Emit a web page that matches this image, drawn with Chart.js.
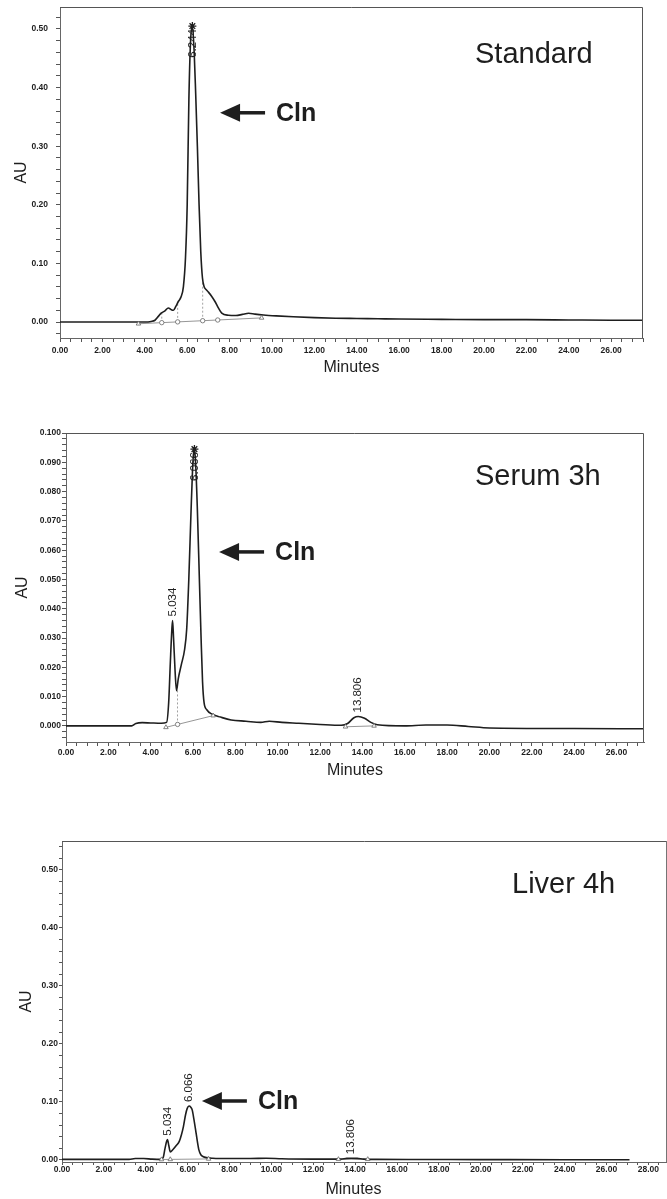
<!DOCTYPE html>
<html>
<head>
<meta charset="utf-8">
<script src="https://cdn.jsdelivr.net/npm/chart.js@4.4.1/dist/chart.umd.min.js"></script>
<style>
  html, body { margin: 0; padding: 0; background: #fff; }
  body { width: 667px; height: 1199px; position: relative; overflow: hidden; }
  canvas { position: absolute; left: 0; }
</style>
</head>
<body>
<canvas id="standard" width="667" height="385" style="top:0px"></canvas>
<canvas id="serum" width="667" height="385" style="top:400px"></canvas>
<canvas id="liver" width="672" height="379" style="top:820px"></canvas>
<script>
// ---- Standard trace (minutes, AU) ----
const standardTime = [0, 4.0, 4.3, 4.48, 4.65, 4.77, 4.95, 5.11, 5.25, 5.35, 5.47, 5.58, 5.7, 5.82, 5.92, 6.0, 6.08, 6.16, 6.244, 6.33, 6.4, 6.48, 6.56, 6.64, 6.72, 6.8, 6.9, 7.0, 7.15, 7.31, 7.47, 7.63, 7.94, 8.3, 8.6, 8.9, 9.2, 9.6, 10.2, 11, 12, 13, 14, 15, 16, 18, 20, 22, 24, 26, 27.5];
const standardAU = [0, 0, 0.001, 0.003, 0.01, 0.015, 0.019, 0.024, 0.021, 0.02, 0.027, 0.035, 0.042, 0.06, 0.11, 0.2, 0.38, 0.48, 0.505, 0.46, 0.39, 0.3, 0.2, 0.12, 0.075, 0.06, 0.055, 0.051, 0.044, 0.035, 0.024, 0.015, 0.0115, 0.011, 0.013, 0.015, 0.0135, 0.012, 0.0105, 0.009, 0.0075, 0.0065, 0.006, 0.0055, 0.005, 0.0045, 0.004, 0.004, 0.0035, 0.003, 0.003];
const standardBaseTime = [3.7, 9.51];
const standardBaseAU = [-0.003, 0.007];
const standardDropTime = [4.8, 4.8, null, 5.55, 5.55, null, 6.73, 6.73];
const standardDropAU = [-0.0011, 0.016, null, 0.0002, 0.034, null, 0.0022, 0.068];
const standardTriTime = [3.7, 9.51];
const standardTriAU = [-0.003, 0.007];
const standardCircTime = [4.8, 5.55, 6.73, 7.44];
const standardCircAU = [-0.0011, 0.0002, 0.0022, 0.0034];
const standardPeakTime = [6.244];
const standardPeakAU = [0.505];
const standardPeakText = ['6.244'];
const standardApexTime = [6.244];
const standardApexAU = [0.505];

// ---- Serum 3h trace ----
const serumTime = [0, 3.1, 3.3, 3.6, 4.0, 4.5, 4.75, 4.85, 4.93, 5.0, 5.034, 5.08, 5.15, 5.22, 5.3, 5.45, 5.6, 5.7, 5.8, 5.9, 5.98, 6.03, 6.066, 6.12, 6.2, 6.3, 6.38, 6.45, 6.52, 6.65, 6.9, 7.3, 7.8, 8.5, 9.2, 9.6, 10.2, 11, 12, 13.0, 13.3, 13.6, 13.806, 14.1, 14.4, 14.7, 16, 17, 18, 19, 20, 24, 27.3];
const serumAU = [0, 0, 0.0008, 0.0011, 0.001, 0.0009, 0.0012, 0.008, 0.022, 0.033, 0.036, 0.03, 0.019, 0.012, 0.016, 0.021, 0.026, 0.033, 0.05, 0.072, 0.088, 0.0935, 0.0945, 0.09, 0.075, 0.05, 0.03, 0.015, 0.008, 0.0055, 0.004, 0.003, 0.002, 0.0016, 0.0012, 0.0016, 0.0012, 0.0009, 0.0005, 0.0002, 0.0008, 0.0028, 0.0032, 0.0026, 0.0012, 0.0004, 0.0, 0.0003, 0.0003, -0.0002, -0.0007, -0.0009, -0.001];
const serumBaseTime = [4.72, 5.27, 6.95, null, 13.2, 14.55];
const serumBaseAU = [-0.0005, 0.0005, 0.0035, null, -0.0003, 0.0];
const serumDropTime = [5.27, 5.27];
const serumDropAU = [0.0005, 0.0125];
const serumTriTime = [4.72, 6.95, 13.2, 14.55];
const serumTriAU = [-0.0005, 0.0035, -0.0003, 0.0];
const serumCircTime = [5.27];
const serumCircAU = [0.0005];
const serumPeakTime = [5.034, 6.066, 13.806];
const serumPeakAU = [0.036, 0.0945, 0.0032];
const serumPeakText = ['5.034', '6.066', '13.806'];
const serumApexTime = [6.066];
const serumApexAU = [0.0945];

// ---- Liver 4h trace ----
const liverTime = [0, 3.2, 3.5, 3.9, 4.3, 4.7, 4.83, 4.92, 5.034, 5.1, 5.17, 5.3, 5.46, 5.6, 5.7, 5.8, 5.9, 5.98, 6.066, 6.15, 6.22, 6.3, 6.38, 6.46, 6.54, 6.63, 6.73, 6.9, 7.2, 8, 9, 9.75, 10.5, 12, 13.3, 13.6, 13.806, 14.1, 14.4, 15, 17, 20, 24, 27.1];
const liverAU = [0.001, 0.001, 0.0025, 0.0025, 0.0015, 0.001, 0.004, 0.02, 0.035, 0.025, 0.014, 0.018, 0.025, 0.032, 0.043, 0.058, 0.078, 0.089, 0.093, 0.091, 0.086, 0.07, 0.052, 0.033, 0.017, 0.009, 0.006, 0.004, 0.003, 0.0025, 0.0025, 0.003, 0.002, 0.0015, 0.0015, 0.0028, 0.003, 0.0028, 0.0015, 0.001, 0.0008, 0.0006, 0.0004, 0.0003];
const liverBaseTime = [4.75, 5.17, 7.0, null, 13.2, 14.6];
const liverBaseAU = [0.0008, 0.001, 0.0018, null, 0.0012, 0.0012];
const liverTriTime = [4.75, 5.17, 7.0, 13.2, 14.6];
const liverTriAU = [0.0008, 0.001, 0.0018, 0.0012, 0.0012];
const liverPeakTime = [5.034, 6.066, 13.806];
const liverPeakAU = [0.035, 0.093, 0.003];
const liverPeakText = ['5.034', '6.066', '13.806'];

const FONT = "'Liberation Sans', Arial, Helvetica, sans-serif";
const INK = '#1e1e1e';

// pair two arrays into {x, y} points (null keeps a gap in the line)
function toPoints(xs, ys) {
  return xs.map((t, i) => ({ x: t, y: ys[i] }));
}

function isMajor(value, step) {
  return Math.abs(value / step - Math.round(value / step)) < 1e-6;
}

// frame, sample name, peak labels and the "Cln" arrow
const chromPlugin = {
  id: 'chrom',
  afterDraw(chart, args, opts) {
    const { ctx, chartArea: area, scales: { x, y } } = chart;
    ctx.save();
    ctx.strokeStyle = '#555';
    ctx.lineWidth = 1;
    ctx.beginPath();
    ctx.moveTo(area.left, area.top + 0.5);
    ctx.lineTo(area.right - 0.5, area.top + 0.5);
    ctx.lineTo(area.right - 0.5, area.bottom);
    ctx.stroke();

    ctx.fillStyle = INK;
    ctx.textBaseline = 'middle';
    ctx.textAlign = 'left';
    ctx.font = '29px ' + FONT;
    ctx.fillText(opts.title, opts.titleX, opts.titleY);

    // rotated retention time labels above each peak
    ctx.font = '11.5px ' + FONT;
    opts.peakTime.forEach((t, i) => {
      const px = x.getPixelForValue(t);
      const py = y.getPixelForValue(opts.peakAU[i]);
      const text = opts.peakText[i];
      const w = ctx.measureText(text).width;
      let start = py - 4;
      if (start - w < area.top) start = py + w + 3;
      ctx.save();
      ctx.translate(px, start);
      ctx.rotate(-Math.PI / 2);
      ctx.fillText(text, 0, 0);
      ctx.restore();
    });

    // arrow pointing at the Cln peak
    const ax = x.getPixelForValue(opts.arrowTime);
    const ay = y.getPixelForValue(opts.arrowAU);
    ctx.beginPath();
    ctx.moveTo(ax, ay);
    ctx.lineTo(ax + 20, ay - 9);
    ctx.lineTo(ax + 20, ay + 9);
    ctx.closePath();
    ctx.fill();
    ctx.fillRect(ax + 19, ay - 1.75, 26, 3.5);
    ctx.font = 'bold 25px ' + FONT;
    ctx.fillText('Cln', ax + 56, ay + 1);
    ctx.restore();
  }
};

function makeChart(id, cfg) {
  const datasets = [
    {
      data: toPoints(cfg.time, cfg.au),
      showLine: true,
      borderColor: INK,
      borderWidth: 1.6,
      pointRadius: 0,
      cubicInterpolationMode: 'monotone',
      order: 1
    },
    {
      data: toPoints(cfg.baseTime, cfg.baseAU),
      showLine: true,
      borderColor: '#8a8a8a',
      borderWidth: 0.9,
      pointRadius: 0,
      spanGaps: false,
      order: 2
    },
    {
      data: toPoints(cfg.dropTime || [], cfg.dropAU || []),
      showLine: true,
      borderColor: '#8a8a8a',
      borderWidth: 0.8,
      borderDash: [2, 2],
      pointRadius: 0,
      spanGaps: false,
      order: 2
    },
    {
      data: toPoints(cfg.triTime, cfg.triAU),
      showLine: false,
      pointStyle: 'triangle',
      pointRadius: 2.6,
      borderColor: '#666',
      borderWidth: 0.8,
      backgroundColor: '#fff',
      order: 0
    },
    {
      data: toPoints(cfg.circTime || [], cfg.circAU || []),
      showLine: false,
      pointStyle: 'circle',
      pointRadius: 2.2,
      borderColor: '#666',
      borderWidth: 0.8,
      backgroundColor: '#fff',
      order: 0
    },
    {
      data: toPoints(cfg.apexTime || [], cfg.apexAU || []),
      showLine: false,
      pointStyle: 'star',
      pointRadius: 4,
      borderColor: INK,
      borderWidth: 1.3,
      order: 0
    }
  ];

  const tickFont = { family: FONT, size: 8.5, weight: 'bold' };

  return new Chart(document.getElementById(id), {
    type: 'scatter',
    data: { datasets: datasets },
    plugins: [chromPlugin],
    options: {
      responsive: false,
      animation: false,
      layout: { padding: cfg.padding },
      plugins: {
        legend: { display: false },
        tooltip: { enabled: false },
        chrom: {
          title: cfg.title,
          titleX: cfg.titleX,
          titleY: cfg.titleY,
          peakTime: cfg.peakTime,
          peakAU: cfg.peakAU,
          peakText: cfg.peakText,
          arrowTime: cfg.arrowTime,
          arrowAU: cfg.arrowAU
        }
      },
      scales: {
        x: {
          type: 'linear',
          min: 0,
          max: cfg.xMax,
          afterFit: (scale) => {
            scale.height = cfg.xHeight;
            scale.paddingLeft = 0;
            scale.paddingRight = 0;
          },
          border: { display: true, color: '#666', width: 1 },
          grid: { drawOnChartArea: false, drawTicks: true, tickLength: cfg.tickLen, tickColor: '#555' },
          ticks: {
            stepSize: 0.5,
            maxTicksLimit: 1000,
            autoSkip: false,
            includeBounds: false,
            maxRotation: 0,
            minRotation: 0,
            padding: cfg.xTickPad,
            color: INK,
            font: tickFont,
            callback: (v) => isMajor(v, 2) ? v.toFixed(2) : ''
          },
          title: {
            display: true,
            // trailing no-break spaces nudge the centred title left where needed
            text: 'Minutes' + '\u00a0'.repeat(cfg.xTitleShift || 0),
            color: INK,
            font: { family: FONT, size: 16 },
            padding: { top: 0, bottom: cfg.xTitlePad }
          }
        },
        y: {
          type: 'linear',
          min: cfg.yMin,
          max: cfg.yMax,
          afterFit: (scale) => {
            scale.width = cfg.yWidth;
            scale.paddingTop = 0;
            scale.paddingBottom = 0;
          },
          border: { display: true, color: '#666', width: 1 },
          grid: { drawOnChartArea: false, drawTicks: true, tickLength: cfg.tickLen, tickColor: '#555' },
          ticks: {
            stepSize: cfg.yMinor,
            maxTicksLimit: 1000,
            autoSkip: false,
            includeBounds: false,
            padding: cfg.yTickPad,
            color: INK,
            font: tickFont,
            callback: (v) => isMajor(v, cfg.yMajor) ? v.toFixed(cfg.yDigits) : ''
          },
          title: {
            display: true,
            text: 'AU',
            color: INK,
            font: { family: FONT, size: 16 },
            padding: { top: cfg.yTitlePad, bottom: 0 }
          }
        }
      }
    }
  });
}

makeChart('standard', {
  time: standardTime, au: standardAU,
  baseTime: standardBaseTime, baseAU: standardBaseAU,
  dropTime: standardDropTime, dropAU: standardDropAU,
  triTime: standardTriTime, triAU: standardTriAU,
  circTime: standardCircTime, circAU: standardCircAU,
  apexTime: standardApexTime, apexAU: standardApexAU,
  peakTime: standardPeakTime, peakAU: standardPeakAU, peakText: standardPeakText,
  title: 'Standard', titleX: 475, titleY: 55,
  arrowTime: 7.55, arrowAU: 0.357,
  padding: { top: 7, right: 24, bottom: 0, left: 0 },
  xMax: 27.5, yMin: -0.0273, yMax: 0.5375,
  yMajor: 0.1, yMinor: 0.02, yDigits: 2,
  xHeight: 47, yWidth: 60, tickLen: 4,
  xTickPad: 4, yTickPad: 8, xTitlePad: 8, yTitlePad: 12
});

makeChart('serum', {
  time: serumTime, au: serumAU,
  baseTime: serumBaseTime, baseAU: serumBaseAU,
  dropTime: serumDropTime, dropAU: serumDropAU,
  triTime: serumTriTime, triAU: serumTriAU,
  circTime: serumCircTime, circAU: serumCircAU,
  apexTime: serumApexTime, apexAU: serumApexAU,
  peakTime: serumPeakTime, peakAU: serumPeakAU, peakText: serumPeakText,
  title: 'Serum 3h', titleX: 475, titleY: 77,
  arrowTime: 7.23, arrowAU: 0.0594,
  padding: { top: 33, right: 23, bottom: 0, left: 0 },
  xMax: 27.3, yMin: -0.0055, yMax: 0.1,
  yMajor: 0.01, yMinor: 0.002, yDigits: 3,
  xHeight: 43, yWidth: 66, tickLen: 4,
  xTickPad: 2, yTickPad: 1, xTitlePad: 5, yTitlePad: 13
});

// this canvas runs a few pixels past the page edge so the frame can sit at the far right
makeChart('liver', {
  time: liverTime, au: liverAU,
  baseTime: liverBaseTime, baseAU: liverBaseAU,
  triTime: liverTriTime, triAU: liverTriAU,
  peakTime: liverPeakTime, peakAU: liverPeakAU, peakText: liverPeakText,
  title: 'Liver 4h', titleX: 512, titleY: 65,
  arrowTime: 6.68, arrowAU: 0.1017,
  padding: { top: 21, right: 0, bottom: 0, left: 0 },
  xMax: 28.9, yMin: -0.0035, yMax: 0.55,
  yMajor: 0.1, yMinor: 0.02, yDigits: 2,
  xHeight: 37, yWidth: 62, tickLen: 3,
  xTickPad: 0, yTickPad: 1, xTitlePad: 0, yTitlePad: 17, xTitleShift: 5
});
</script>
</body>
</html>
